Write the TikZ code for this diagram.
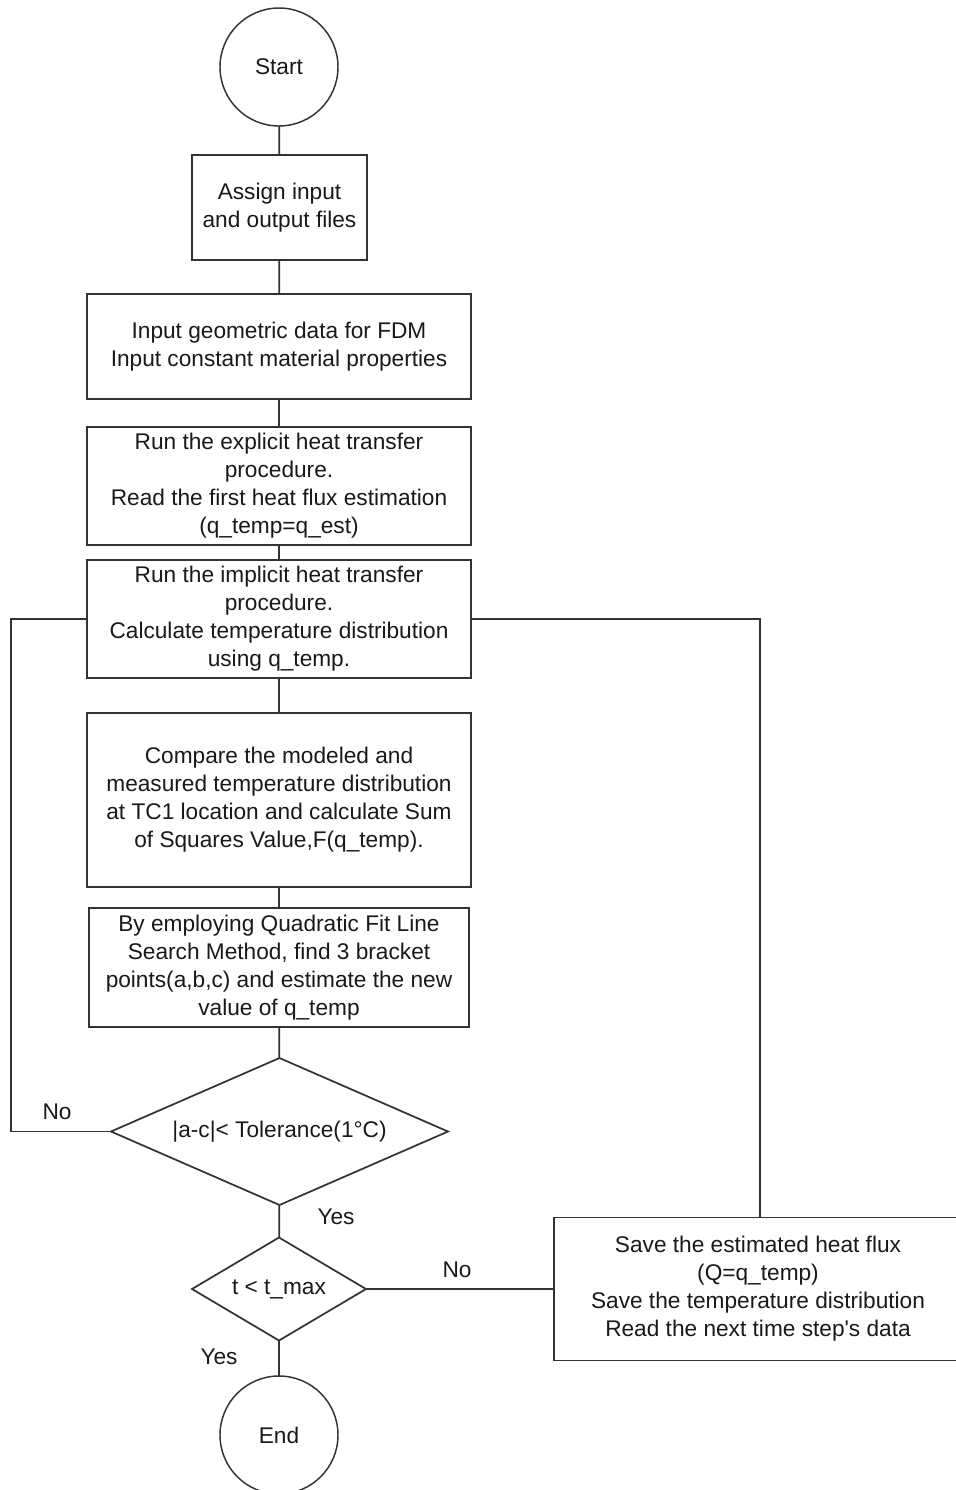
\documentclass[tikz,border=0pt]{standalone}
\usepackage{fontspec}
\setmainfont{Liberation Sans}[Ligatures=TeXOff]
\usetikzlibrary{shapes.geometric}
\begin{document}
\begin{tikzpicture}[x=0.75pt,y=-0.75pt,
  every node/.style={font=\fontsize{17}{21}\selectfont, text=black!90, align=center},
  conn/.style={draw=black!80, line width=1.3pt},
  procbox/.style={draw=black!80, line width=1.3pt, rectangle, inner sep=2pt, outer sep=0pt},
  term/.style={draw=black!80, line width=1.1pt, circle, minimum size=88.5pt, inner sep=0pt, outer sep=0pt},
  decision/.style={draw=black!80, line width=1.3pt, diamond, inner sep=0pt, outer sep=0pt},
  lbl/.style={inner sep=0pt}]
\clip (0,0) rectangle (956,1490);

% terminals
\node[term] (start) at (279,67) {Start};
\node[term] (end) at (279,1435) {End};

% process boxes
\node[procbox, minimum width=131.25pt, minimum height=78.75pt] (assign) at (279.5,207.5)
  {Assign input\\and output files};
\node[procbox, minimum width=288pt, minimum height=78.75pt] (geom) at (279,346.5)
  {Input geometric data for FDM\\Input constant material properties};
\node[procbox, minimum width=288pt, minimum height=88.5pt] (expl) at (279,486)
  {Run the explicit heat transfer\\procedure.\\Read the first heat flux estimation\\(q\_temp=q\_est)};
\node[procbox, minimum width=288pt, minimum height=88.5pt] (impl) at (279,619)
  {Run the implicit heat transfer\\procedure.\\Calculate temperature distribution\\using q\_temp.};
\node[procbox, minimum width=288pt, minimum height=130.5pt] (comp) at (279,800)
  {Compare the modeled and\\measured temperature distribution\\at TC1 location and calculate Sum\\of Squares Value,F(q\_temp).};
\node[procbox, minimum width=285pt, minimum height=89.25pt] (quad) at (279,967.5)
  {By employing Quadratic Fit Line\\Search Method, find 3 bracket\\points(a,b,c) and estimate the new\\value of q\_temp};

% decisions
\node[decision, aspect=2.3, minimum width=252.75pt, minimum height=110.25pt] (tol) at (279.5,1131.5)
  {|a-c|< Tolerance(1°C)};
\node[decision, aspect=1.69, minimum width=130.5pt, minimum height=77.25pt] (tmax) at (279,1289)
  {t < t\_max};

% save box (runs past the right edge)
\node[procbox, minimum width=306pt, minimum height=107.25pt] (save) at (758,1289)
  {Save the estimated heat flux\\(Q=q\_temp)\\Save the temperature distribution\\Read the next time step's data};

% main column
\draw[conn] (start) -- (assign);
\draw[conn] (assign) -- (geom);
\draw[conn] (geom) -- (expl);
\draw[conn] (expl) -- (impl);
\draw[conn] (impl) -- (comp);
\draw[conn] (comp) -- (quad);
\draw[conn] (quad) -- (tol);
\draw[conn] (tol) -- (tmax);
\draw[conn] (tmax) -- (end);

% loop back when tolerance not met
\coordinate (lb) at (11,1131.5);
\coordinate (lt) at (11,619);
\draw[conn] (tol.west) -- (lb) -- (lt) -- (impl.west);

% next time step
\draw[conn] (tmax.east) -- (tmax.east -| save.west);
\coordinate (rt) at (760,619);
\draw[conn] (impl.east) -- (rt) -- (rt |- save.north);

% branch labels
\node[lbl] (no1) at (57,1112) {No};
\node[lbl] (yes1) at (336,1217) {Yes};
\node[lbl] (no2) at (457,1270) {No};
\node[lbl] (yes2) at (219,1357) {Yes};
\end{tikzpicture}
\end{document}
